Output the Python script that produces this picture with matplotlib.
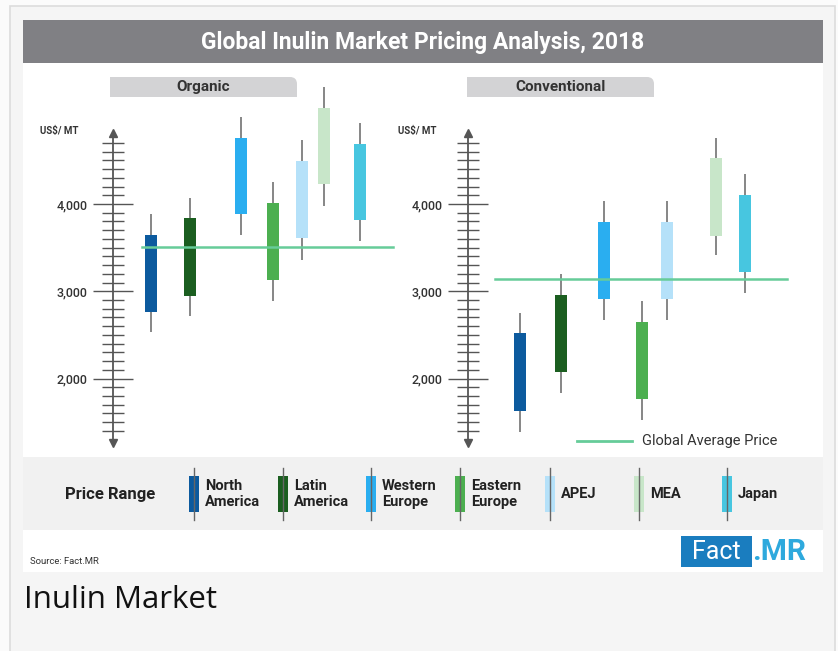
import numpy as np
import matplotlib
matplotlib.use("Agg")
import matplotlib.pyplot as plt
import matplotlib.patches as mpatches
from matplotlib.path import Path
from matplotlib.ticker import FixedLocator, FuncFormatter

plt.rcParams["font.family"] = ["Roboto", "DejaVu Sans"]

# ── Data (US$/MT) ─────────────────────────────────────────────────────────
REGIONS = ["North America", "Latin America", "Western Europe", "Eastern Europe",
           "APEJ", "MEA", "Japan"]
LEGEND_LABELS = ["North\nAmerica", "Latin\nAmerica", "Western\nEurope", "Eastern\nEurope",
                 "APEJ", "MEA", "Japan"]

ORG_HIGH = [3880, 4070, 5000, 4250, 4730, 5340, 4930]
ORG_TOP = [3650, 3840, 4760, 4010, 4490, 5100, 4690]
ORG_BOTTOM = [2760, 2950, 3890, 3130, 3610, 4230, 3820]
ORG_LOW = [2530, 2720, 3650, 2890, 3360, 3980, 3580]
ORG_AVG = 3510

CONV_HIGH = [2755, 3200, 4030, 2890, 4030, 4750, 4340]
CONV_TOP = [2520, 2960, 3790, 2650, 3790, 4530, 4100]
CONV_BOTTOM = [1630, 2080, 2910, 1770, 2910, 3630, 3220]
CONV_LOW = [1390, 1840, 2670, 1530, 2670, 3410, 2980]
CONV_AVG = 3140

COLORS = ["#0c5a9e", "#1b5e20", "#2aaef0", "#4caf50", "#b5e1f9", "#c8e6c9", "#47c6e0"]
AVG_COLOR = "#66cc99"
WICK = "#666666"

W, H = 838, 651
fig = plt.figure(figsize=(W / 100, H / 100), dpi=100)
fig.patch.set_facecolor("#fbfbfb")

# ── fond / décor en coordonnées pixel ─────────────────────────────────────
bg = fig.add_axes([0, 0, 1, 1], zorder=0)
bg.set_xlim(0, W)
bg.set_ylim(H, 0)
bg.axis("off")

def rect(x0, y0, x1, y1, **kw):
    bg.add_patch(mpatches.Rectangle((x0, y0), x1 - x0, y1 - y0, **kw))

rect(10, 6, 835, 660, facecolor="#f5f5f5", edgecolor="#dcdcdc", lw=1.2)
rect(23, 20, 823, 572, facecolor="white", edgecolor="none")
rect(23, 20, 823, 63, facecolor="#808084", edgecolor="none")
bg.text(423, 43, "Global Inulin Market Pricing Analysis, 2018", color="white",
        fontsize=16.5, fontweight="bold", ha="center", va="center")

def tab(x0, x1, label):
    y0, y1, r = 77, 97, 7
    verts = [(x0, y1), (x0, y0), (x1 - r, y0), (x1, y0), (x1, y0 + r), (x1, y1), (x0, y1)]
    codes = [Path.MOVETO, Path.LINETO, Path.LINETO, Path.CURVE3, Path.CURVE3,
             Path.LINETO, Path.CLOSEPOLY]
    bg.add_patch(mpatches.PathPatch(Path(verts, codes), facecolor="#d3d3d5", edgecolor="none"))
    bg.text((x0 + x1) / 2, 87, label, fontsize=11, fontweight="bold", color="#333333",
            ha="center", va="center")

tab(110, 297, "Organic")
tab(467, 654, "Conventional")

bg.text(59, 131, "US$/ MT", fontsize=7, fontweight="bold", color="#333333",
        ha="center", va="center")
bg.text(417, 131, "US$/ MT", fontsize=7, fontweight="bold", color="#333333",
        ha="center", va="center")

# bande "Price Range"
rect(23, 457, 823, 530, facecolor="#f1f1f1", edgecolor="none")
bg.text(110, 494, "Price Range", fontsize=12, fontweight="bold", color="#222222",
        ha="center", va="center")
LEG_X = [194, 283, 371, 460, 550, 639, 727]
for x, c, lab in zip(LEG_X, COLORS, LEGEND_LABELS):
    bg.plot([x, x], [468, 520], color=WICK, lw=1)
    rect(x - 5, 476, x + 5, 512, facecolor=c, edgecolor="none")
    bg.text(x + 11, 494, lab, fontsize=10.5, fontweight="bold", color="#222222",
            ha="left", va="center", linespacing=1.1)

# légende moyenne globale
bg.plot([577, 632], [441, 441], color=AVG_COLOR, lw=2)
bg.text(642, 441, "Global Average Price", fontsize=10.5, color="#333333",
        ha="left", va="center")

# pied de page
bg.text(30, 562, "Source: Fact.MR", fontsize=6.8, color="#333333", ha="left", va="center")
rect(681, 536, 752, 567, facecolor="#1a7dbf", edgecolor="none")
bg.text(716, 552, "Fact", fontsize=18, color="white", ha="center", va="center")
bg.text(752, 552, ".MR", fontsize=21.5, fontweight="bold", color="#2ea9dd",
        ha="left", va="center")
bg.text(24, 600, "Inulin Market", fontsize=22.5, color="#111111", ha="left", va="center",
        family=["Open Sans", "DejaVu Sans"])

# ── panneaux chandeliers ──────────────────────────────────────────────────
AX_TOP, AX_BOT = 133, 443
Y_TOP, Y_BOT = 4813, 1262

def panel(x_left, x_right, xs, high, top, bottom, low, avg, avg_span):
    ax = fig.add_axes([x_left / W, (H - AX_BOT) / H, (x_right - x_left) / W,
                       (AX_BOT - AX_TOP) / H], zorder=2)
    ax.set_facecolor("none")
    ax.set_xlim(0, x_right - x_left)
    ax.set_ylim(Y_BOT, Y_TOP)
    for s in ("top", "right", "bottom"):
        ax.spines[s].set_visible(False)
    ax.spines["left"].set_color("#555555")
    ax.spines["left"].set_linewidth(1.3)
    ax.set_xticks([])
    ax.yaxis.set_major_locator(FixedLocator([2000, 3000, 4000]))
    minor = [v for v in range(1400, 4800, 100) if v % 1000]
    ax.yaxis.set_minor_locator(FixedLocator(minor))
    ax.yaxis.set_major_formatter(FuncFormatter(lambda v, p: f"{v:,.0f}"))
    ax.tick_params(axis="y", which="major", direction="inout", length=29, width=1,
                   color="#555555", pad=4, labelsize=9, labelcolor="#333333")
    ax.tick_params(axis="y", which="minor", direction="inout", length=16, width=1,
                   color="#555555")
    for lbl in ax.get_yticklabels():
        lbl.set_fontweight("medium")
    ax.plot([0], [1], marker="^", color="#555555", ms=6, transform=ax.transAxes,
            clip_on=False)
    ax.plot([0], [0], marker="v", color="#555555", ms=6, transform=ax.transAxes,
            clip_on=False)

    ax.vlines(xs, low, high, color=WICK, lw=1.1, zorder=2, clip_on=False)
    ax.bar(xs, np.subtract(top, bottom), bottom=bottom, width=12, color=COLORS,
           edgecolor="none", zorder=3, clip_on=False)
    ax.plot(avg_span, [avg, avg], color=AVG_COLOR, lw=1.8, zorder=4)
    return ax

panel(113, 400, [37.7, 77, 127.7, 159.7, 189, 211.3, 247],
      ORG_HIGH, ORG_TOP, ORG_BOTTOM, ORG_LOW, ORG_AVG, [29, 280])
panel(468, 800, [51.7, 93, 136, 173.7, 199.3, 248, 276.7],
      CONV_HIGH, CONV_TOP, CONV_BOTTOM, CONV_LOW, CONV_AVG, [27, 319])

fig.savefig("out.png", dpi=100)
